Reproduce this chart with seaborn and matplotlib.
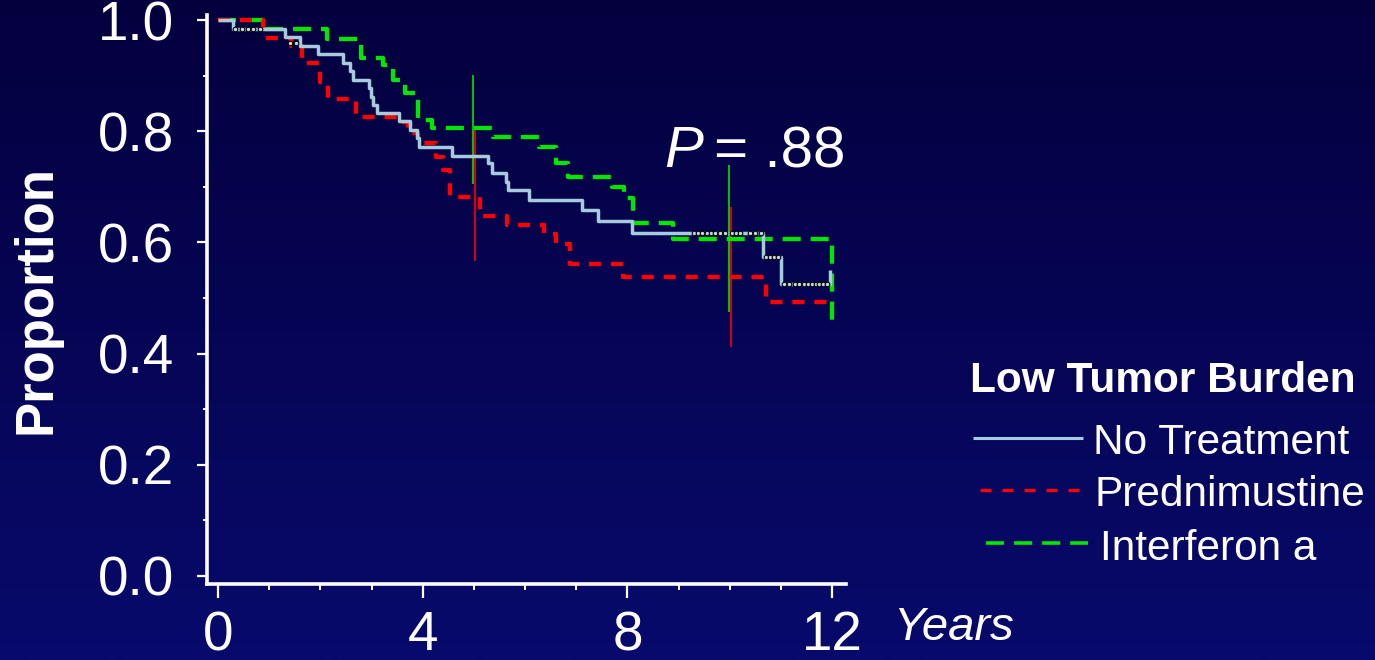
import numpy as np
import pandas as pd
import matplotlib
matplotlib.use("Agg")
import matplotlib.pyplot as plt
import seaborn as sns
from matplotlib.lines import Line2D
from matplotlib.colors import LinearSegmentedColormap
from matplotlib.ticker import MultipleLocator, FixedLocator

# ---------------- data ----------------
series_names = ["No Treatment", "Prednimustine", "Interferon a"]
legend_title = "Low Tumor Burden"

no_treat_years = [0, 0.30, 1.31, 1.60, 1.95, 2.44, 2.58, 2.63, 2.95, 2.98, 3.03, 3.10,
                  3.54, 3.76, 3.88, 3.93, 4.58, 5.28, 5.36, 5.63, 5.67, 6.07, 7.12,
                  7.42, 8.09, 10.65, 11.00, 11.95, 11.95]
no_treat_prop = [1.0, 0.984, 0.969, 0.953, 0.938, 0.923, 0.908, 0.892, 0.877, 0.862,
                 0.847, 0.832, 0.819, 0.802, 0.787, 0.772, 0.755, 0.742, 0.725, 0.709,
                 0.694, 0.677, 0.658, 0.638, 0.617, 0.574, 0.526, 0.526, 0.551]

pred_years = [0, 0.88, 1.43, 1.65, 2.00, 2.14, 2.69, 3.55, 3.71, 3.90, 4.26, 4.39,
              4.53, 5.12, 5.64, 6.37, 6.60, 6.875, 7.92, 10.70, 12.0]
pred_prop = [1.0, 0.968, 0.953, 0.922, 0.889, 0.858, 0.826, 0.817, 0.797, 0.778,
             0.754, 0.730, 0.682, 0.647, 0.632, 0.616, 0.598, 0.562, 0.537, 0.492, 0.492]

ifn_years = [0, 0.88, 2.12, 2.80, 3.23, 3.42, 3.65, 3.91, 4.19, 5.37, 6.27, 6.60,
             6.84, 7.70, 7.93, 8.11, 8.89, 12.0]
ifn_prop = [1.0, 0.983, 0.966, 0.931, 0.919, 0.892, 0.869, 0.821, 0.806, 0.789,
            0.772, 0.742, 0.718, 0.700, 0.679, 0.635, 0.607, 0.454]

censor_years = [0.33, 0.46, 0.59, 0.69, 0.82, 1.40, 1.52,
                9.30, 9.38, 9.46, 9.55, 9.63, 9.72, 9.80, 9.90, 10.05, 10.13, 10.20,
                10.40, 10.50, 10.60,
                10.70, 10.78, 10.86, 10.94,
                11.05, 11.15, 11.27, 11.35, 11.45, 11.52, 11.60, 11.68, 11.75, 11.83, 11.90]
censor_prop = [0.984] * 5 + [0.958] * 2 + [0.617] * 14 + [0.574] * 4 + [0.526] * 11

ci_years = [5, 5, 10, 10]
ci_series = ["Interferon a", "Prednimustine", "Interferon a", "Prednimustine"]
ci_low = [0.705, 0.566, 0.474, 0.411]
ci_high = [0.901, 0.802, 0.739, 0.664]

x_major_ticks = [0, 4, 8, 12]
y_major_ticks = [0.0, 0.2, 0.4, 0.6, 0.8, 1.0]
p_value_label = ".88"
x_axis_label = "Years"
y_axis_label = "Proportion"

colors = {"No Treatment": "#a6cbdc", "Prednimustine": "#ff0000", "Interferon a": "#00e600"}

# ---------------- figure ----------------
W, H = 1375, 660
fig = plt.figure(figsize=(W / 100, H / 100), dpi=100)
plt.rcParams["font.family"] = ["Liberation Sans", "DejaVu Sans"]

bg = fig.add_axes([0, 0, 1, 1], zorder=-10)
cmap = LinearSegmentedColormap.from_list("bg", ["#04003e", "#080a6c"])
bg.imshow(np.linspace(0, 1, 256).reshape(-1, 1), aspect="auto", cmap=cmap,
          extent=[0, 1, 0, 1])
bg.axis("off")

def px(x0, y0, x1, y1):
    return [x0 / W, 1 - y1 / H, (x1 - x0) / W, (y1 - y0) / H]

ax = fig.add_axes(px(207, 15, 846, 584))
ax.set_facecolor("none")

frames = {
    "No Treatment": pd.DataFrame({"Years": no_treat_years, "Proportion": no_treat_prop}),
    "Prednimustine": pd.DataFrame({"Years": pred_years, "Proportion": pred_prop}),
    "Interferon a": pd.DataFrame({"Years": ifn_years, "Proportion": ifn_prop}),
}
styles = {
    "No Treatment": dict(lw=2.5, dashes=None, z=4),
    "Prednimustine": dict(lw=3.1, dashes=[2.8, 2.3], z=3),
    "Interferon a": dict(lw=3.1, dashes=[4.2, 2.3], z=2),
}

# confidence bars
for xv, s, lo, hi in zip(ci_years, ci_series, ci_low, ci_high):
    off = -0.015 if s == "Interferon a" else 0.015
    ax.vlines(xv + off, lo, hi, color=colors[s], lw=1.2, zorder=1)

for name in ["Interferon a", "Prednimustine", "No Treatment"]:
    st = styles[name]
    sns.lineplot(data=frames[name], x="Years", y="Proportion", ax=ax,
                 estimator=None, sort=False, drawstyle="steps-post",
                 color=colors[name], linewidth=st["lw"], legend=False, zorder=st["z"])
    line = ax.lines[-1]
    if st["dashes"] is not None:
        line.set_dashes(st["dashes"])
    line.set_solid_capstyle("butt")

ax.scatter(censor_years, censor_prop, marker="o", s=11, facecolor="#c4d8e4",
           edgecolor="#000000", linewidth=0.8, zorder=5)

ax.set_xlim(-0.215, 12.27)
ax.set_ylim(-0.0144, 1.009)
ax.xaxis.set_major_locator(FixedLocator(x_major_ticks))
ax.xaxis.set_minor_locator(MultipleLocator(1))
ax.yaxis.set_major_locator(FixedLocator(y_major_ticks))
ax.yaxis.set_minor_locator(MultipleLocator(0.1))
ax.set_yticklabels([f"{v:.1f}" for v in y_major_ticks])
ax.set_xticklabels([str(v) for v in x_major_ticks])

for sp in ["top", "right"]:
    ax.spines[sp].set_visible(False)
for sp in ["left", "bottom"]:
    ax.spines[sp].set_color("white")
    ax.spines[sp].set_linewidth(2.6)

ax.tick_params(axis="both", which="both", colors="white", direction="out")
ax.tick_params(axis="y", which="major", length=7, width=1.6, labelsize=39.5, pad=17)
ax.tick_params(axis="y", which="minor", length=3, width=1.4)
ax.tick_params(axis="x", which="major", length=10, width=1.6, labelsize=39.5, pad=9)
ax.tick_params(axis="x", which="minor", length=4.5, width=1.4)
for lab in ax.get_xticklabels() + ax.get_yticklabels():
    lab.set_color("white")

ax.set_xlabel("")
ax.set_ylabel(y_axis_label, fontsize=38, fontweight="bold", color="white")
ax.yaxis.set_label_coords(-0.228, 0.5)

# annotations
fig.text(893 / W, 1 - 640 / H, x_axis_label, fontsize=34, style="italic",
         color="white", ha="left", va="baseline")
fig.text(664 / W, 1 - 167 / H, "P", fontsize=42, style="italic", color="white",
         ha="left", va="baseline")
fig.text(714 / W, 1 - 167 / H, "= " + p_value_label, fontsize=42, color="white",
         ha="left", va="baseline")

# legend
fig.text(970 / W, 1 - 392 / H, legend_title, fontsize=30.5, fontweight="bold",
         color="white", ha="left", va="baseline")
leg_rows = [("No Treatment", 973, 1083, 438, 1093, None, 2.2),
            ("Prednimustine", 980, 1082, 490, 1095, [3.3, 3.3], 2.4),
            ("Interferon a", 986, 1088, 543, 1100, [5.0, 2.77], 2.6)]
for name, x0, x1, yy, tx, dsh, lw in leg_rows:
    ln = Line2D([x0 / W, x1 / W], [1 - yy / H, 1 - yy / H], transform=fig.transFigure,
                color=colors[name], lw=lw, solid_capstyle="butt", dash_capstyle="butt")
    if dsh is not None:
        ln.set_dashes(dsh)
    fig.add_artist(ln)
    fig.text(tx / W, 1 - (yy + 1) / H, name, fontsize=30.5, color="white",
             ha="left", va="center_baseline")

fig.savefig("out.png", dpi=100, facecolor=fig.get_facecolor())
